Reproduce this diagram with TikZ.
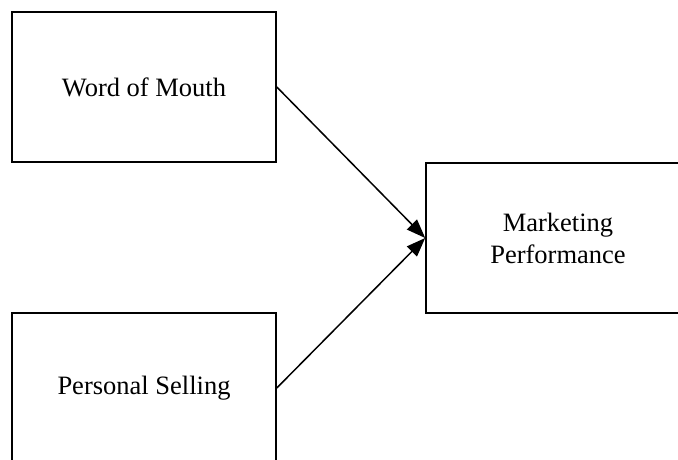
\documentclass[tikz,border=0pt]{standalone}
\usepackage{fontspec}
\setmainfont{Liberation Serif}
\usetikzlibrary{arrows.meta}
\begin{document}
\begin{tikzpicture}[x=1pt,y=-1pt,
 box/.style={draw,line width=1.6pt,minimum width=264pt,minimum height=150pt,inner sep=0pt,align=center,font=\fontsize{26.5}{32}\selectfont},
 link/.style={line width=1.5pt,-{Triangle[length=19pt,width=14pt]}}]
\useasboundingbox (0,0) rectangle (678,460);
\clip (0,0) rectangle (678,460);
\node[box] (wom) at (144,87) {Word of Mouth};
\node[box] (ps) at (144,388) {Personal Selling};
\node[box] (mp) at (558,238) {Marketing\\Performance};
\draw[link] (wom.east) -- (mp.west);
\draw[link] (ps.east) -- (mp.west);
\end{tikzpicture}
\end{document}
